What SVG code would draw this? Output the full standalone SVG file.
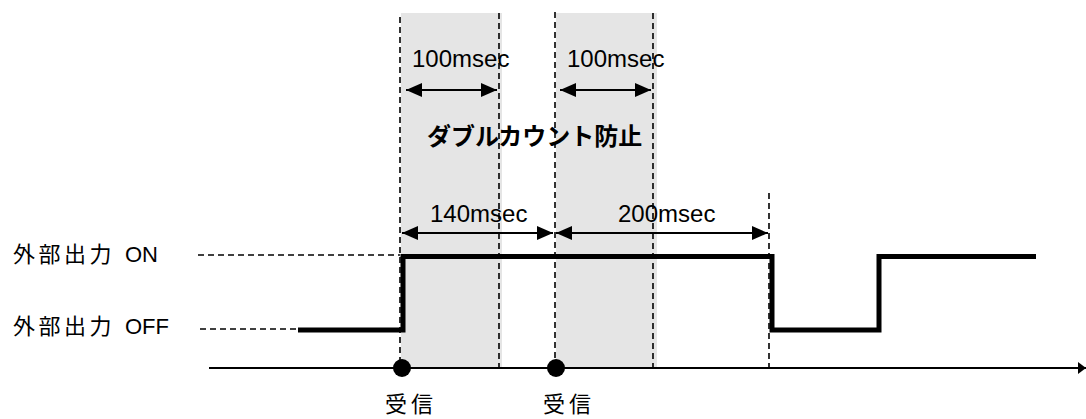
<svg xmlns="http://www.w3.org/2000/svg" width="1086" height="419" viewBox="0 0 1086 419">
  <style>
    .bg { fill: #ffffff; }
    .shade { fill: #e5e5e5; stroke: none; }
    .dash { stroke: #000; stroke-width: 1.6; stroke-dasharray: 6 4; fill: none; }
    .ref { stroke: #000; stroke-width: 1.3; stroke-dasharray: 6 4; fill: none; }
    .dim { stroke: #000; stroke-width: 2; fill: none; marker-start: url(#ah); marker-end: url(#ah); }
    .axis { stroke: #000; stroke-width: 2.2; fill: none; marker-end: url(#axh); }
    .sig { stroke: #000; stroke-width: 5; fill: none; stroke-linejoin: miter; }
    .lat { font-family: "Liberation Sans", Arial, sans-serif; font-size: 24px; fill: #000; }
    .lbl { font-family: "Liberation Sans", "Noto Sans CJK JP", sans-serif; font-size: 22px; fill: #000; }
    .cjk { font-family: "Noto Sans CJK JP", sans-serif; font-size: 22px; fill: #000; }
    .rx { font-family: "Noto Sans CJK JP", sans-serif; font-size: 22px; fill: #000; }
    .title { font-family: "Noto Sans CJK JP", sans-serif; font-size: 24px; font-weight: bold; fill: #000; }
  </style>
  <defs>
    <marker id="ah" markerUnits="userSpaceOnUse" markerWidth="16" markerHeight="14" refX="16" refY="7" orient="auto-start-reverse">
      <path d="M0,0 L16,7 L0,14 z" fill="#000"/>
    </marker>
    <marker id="axh" markerUnits="userSpaceOnUse" markerWidth="8" markerHeight="12" refX="8" refY="6" orient="auto">
      <path d="M0,0 L8,6 L0,12 z" fill="#000"/>
    </marker>
  </defs>
  <rect class="bg" x="0" y="0" width="1086" height="419"/>

  <g id="shaded-regions">
    <rect class="shade" x="401" y="13" width="101" height="355"/>
    <rect class="shade" x="556" y="13" width="101" height="355"/>
  </g>

  <g id="connectors">
    <line class="dash" x1="400" y1="17" x2="400" y2="368"/>
    <line class="dash" x1="499" y1="13" x2="499" y2="368"/>
    <line class="dash" x1="555" y1="12" x2="555" y2="368"/>
    <line class="dash" x1="653" y1="13" x2="653" y2="368"/>
    <line class="dash" x1="769" y1="193" x2="769" y2="368"/>
    <line class="ref" x1="198" y1="255" x2="400" y2="255"/>
    <line class="ref" x1="200" y1="329" x2="298" y2="329"/>
    <line class="dim" x1="406" y1="90" x2="497" y2="90"/>
    <line class="dim" x1="560" y1="90" x2="651" y2="90"/>
    <line class="dim" x1="402" y1="233" x2="553" y2="233"/>
    <line class="dim" x1="556" y1="233" x2="768" y2="233"/>
    <line class="axis" x1="209" y1="368" x2="1086" y2="368"/>
  </g>

  <g id="signal">
    <polyline class="sig" points="298,330 403,330 403,256.5 772,256.5 772,330 879,330 879,256.5 1036,256.5"/>
  </g>

  <g id="receive-1">
    <circle cx="402" cy="368" r="9" fill="#000"/>
    <text class="rx" x="385" y="412" letter-spacing="4">受信</text>
  </g>
  <g id="receive-2">
    <circle cx="556" cy="368" r="9" fill="#000"/>
    <text class="rx" x="543" y="412" letter-spacing="4">受信</text>
  </g>

  <g id="label-on">
    <text class="lbl" y="262"><tspan class="cjk" x="13" letter-spacing="3.5">外部出力</tspan> <tspan x="125">ON</tspan></text>
  </g>
  <g id="label-off">
    <text class="lbl" y="334"><tspan class="cjk" x="13" letter-spacing="3.5">外部出力</tspan> <tspan x="125">OFF</tspan></text>
  </g>

  <g id="dim-labels">
    <text class="lat" x="412" y="67">100msec</text>
    <text class="lat" x="567" y="67">100msec</text>
    <text class="lat" x="430" y="222">140msec</text>
    <text class="lat" x="618" y="222">200msec</text>
    <text class="title" x="427" y="145">ダブルカウント防止</text>
  </g>
</svg>
